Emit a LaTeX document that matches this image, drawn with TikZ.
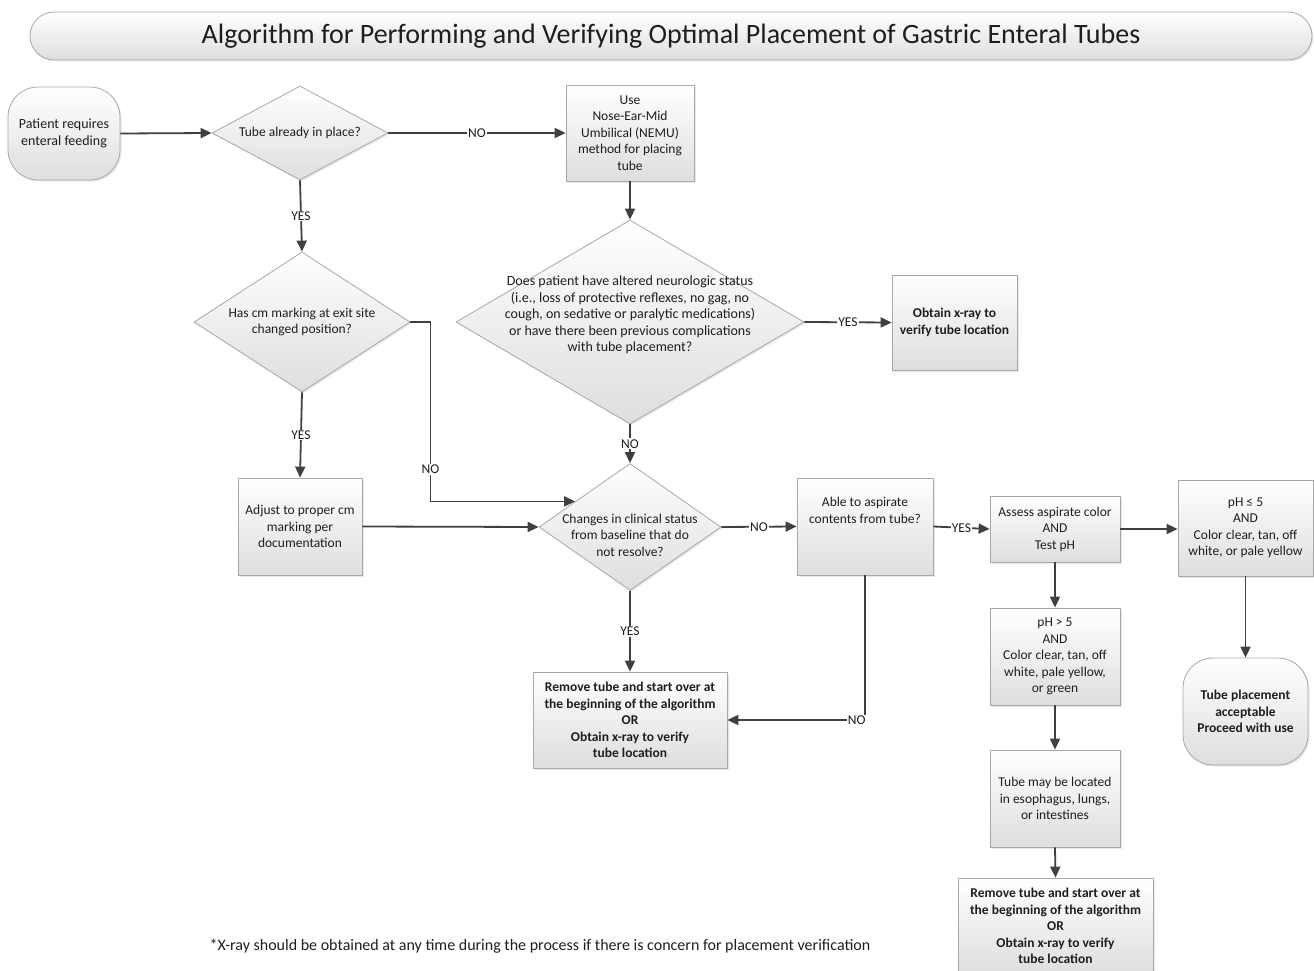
\documentclass[tikz,border=0pt]{standalone}
\usepackage{fontspec}
\setmainfont{Carlito}
\usetikzlibrary{shapes.geometric,arrows.meta,shadows,calc}
\definecolor{linec}{HTML}{404040}
\definecolor{bordc}{HTML}{A8A8A8}
\definecolor{txtc}{HTML}{1E1E1E}
\begin{document}
\begin{tikzpicture}[x=1pt,y=-1pt,
  base/.style={font=\fontsize{13.5}{16.5}\selectfont, text=txtc, align=center},
  bbase/.style={font=\fontsize{13.5}{16.5}\selectfont\bfseries},
  shade/.style={draw=bordc, line width=0.8pt, top color=white, bottom color=black!13,
    drop shadow={shadow xshift=1.5pt, shadow yshift=-1.5pt, fill=black!18}},
  box/.style={base, shade, inner sep=2pt},
  term/.style={base, shade, rounded corners=30pt, inner sep=2pt},
  dia/.style={shape=diamond, shade, inner sep=0pt},
  lab/.style={base, fill=white, inner sep=1pt},
  arr/.style={draw=linec, line width=1.8pt, -{Triangle[length=11pt,width=10pt]}},
  ln/.style={draw=linec, line width=1.8pt}
]
\useasboundingbox (0,0) rectangle (1314,971);

% title
\node[shade, rounded corners=24pt, minimum width=1282pt, minimum height=48pt,
  font=\fontsize{28}{32}\selectfont, text=txtc] (title) at (671,36)
  {Algorithm for Performing and Verifying Optimal Placement of Gastric Enteral Tubes};

% nodes
\node[term, minimum width=112pt, minimum height=93pt, font=\fontsize{14}{17}\selectfont] (start) at (64,133.5)
  {Patient requires\\enteral feeding};
\node[dia, minimum width=176pt, minimum height=94pt] (d1) at (300,133) {};
\node[base] (d1t) at (d1) {Tube already in place?};

\node[box, minimum width=128pt, minimum height=96pt] (nemu) at (630,133)
  {Use\\Nose-Ear-Mid\\Umbilical (NEMU)\\method for placing\\tube};

\node[dia, minimum width=348pt, minimum height=204pt] (d2) at (630,322) {};
\node[base, font=\fontsize{14}{16.5}\selectfont] (d2t) at ($(d2)+(0,-7)$) {Does patient have altered neurologic status\\(i.e., loss of protective reflexes, no gag, no\\cough, on sedative or paralytic medications)\\or have there been previous complications\\with tube placement?};

\node[box, minimum width=125pt, minimum height=95pt, bbase] (xray) at (954.5,322.5)
  {Obtain x-ray to\\verify tube location};

\node[dia, minimum width=216pt, minimum height=140pt] (dcm) at (302,322) {};
\node[base] (dcmt) at (dcm) {Has cm marking at exit site\\changed position?};

\node[box, minimum width=124pt, minimum height=97pt] (adj) at (300,526.5)
  {Adjust to proper cm\\marking per\\documentation};

\node[dia, minimum width=182pt, minimum height=127pt] (d3) at (630,527) {};
\node[base] (d3t) at ($(d3)+(0,8)$) {Changes in clinical status\\from baseline that do\\not resolve?};

\node[box, minimum width=136pt, minimum height=97pt] (asp) at (865,526.5)
  {Able to aspirate\\contents from tube?\\[16pt]};

\node[box, minimum width=194pt, minimum height=96pt, bbase] (rem1) at (630,720)
  {Remove tube and start over at\\the beginning of the algorithm\\OR\\Obtain x-ray to verify\\tube location};

\node[box, minimum width=130pt, minimum height=66pt] (assess) at (1055,529)
  {Assess aspirate color\\AND\\Test pH};

\node[box, minimum width=135pt, minimum height=96pt] (phle) at (1245.5,528)
  {pH ≤ 5\\AND\\Color clear, tan, off\\white, or pale yellow};

\node[term, minimum width=125pt, minimum height=107pt, bbase] (ok) at (1245.5,711.5)
  {Tube placement\\acceptable\\Proceed with use};

\node[box, minimum width=130pt, minimum height=97pt] (phgt) at (1055,656.5)
  {pH > 5\\AND\\Color clear, tan, off\\white, pale yellow,\\or green};

\node[box, minimum width=130pt, minimum height=97pt] (loc) at (1055,798.5)
  {Tube may be located\\in esophagus, lungs,\\or intestines};

\node[box, minimum width=195pt, minimum height=96pt, bbase] (rem2) at (1055.5,926)
  {Remove tube and start over at\\the beginning of the algorithm\\OR\\Obtain x-ray to verify\\tube location};

\node[base, font=\fontsize{16}{19}\selectfont] (foot) at (540,946)
  {*X-ray should be obtained at any time during the process if there is concern for placement verification};

% connectors
\draw[arr] (start.east) -- (d1.west);
\draw[arr] (d1.east) -- node[lab]{NO} (nemu.west);
\draw[arr] (nemu.south) -- (d2.north);
\draw[arr] (d2.east) -- node[lab]{YES} (xray.west);
\draw[arr] (d1.south) -- node[lab]{YES} (dcm.north);
\draw[arr] (dcm.south) -- node[lab]{YES} (adj.north);
\coordinate (j) at ($(d3.west)!0.4!(d3.north)$);
\draw[arr] (dcm.east) -- ++(20,0) |- node[lab,pos=0.41]{NO} (j);
\draw[arr] (adj.east) -- (d3.west);
\draw[arr] (d2.south) -- node[lab]{NO} (d3.north);
\draw[arr] (d3.east) -- node[lab]{NO} (asp.west);
\draw[arr] (d3.south) -- node[lab]{YES} (rem1.north);
\draw[arr] (asp.south) |- node[lab,pos=0.53]{NO} (rem1.east);
\draw[arr] (asp.east) -- node[lab]{YES} (assess.west);
\draw[arr] (assess.east) -- (assess.east -| phle.west);
\draw[arr] (phle.south) -- (ok.north);
\draw[arr] (assess.south) -- (phgt.north);
\draw[arr] (phgt.south) -- (loc.north);
\draw[arr] (loc.south) -- (rem2.north);
\end{tikzpicture}
\end{document}
